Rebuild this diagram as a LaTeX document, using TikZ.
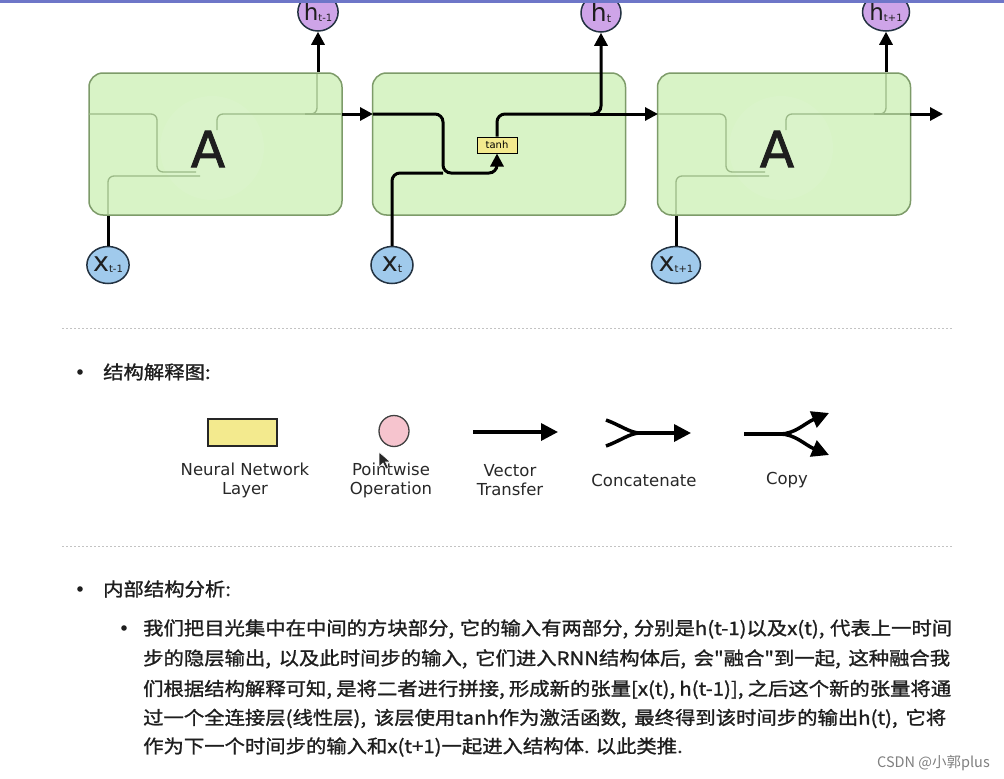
\documentclass[tikz,border=0pt]{standalone}
\usepackage{fontspec}
\usetikzlibrary{arrows.meta,shapes.geometric}
\newfontfamily\cjk[FakeStretch=1.1,FakeBold=1.2]{Noto Sans CJK SC}
\newfontfamily\cjkplain{Noto Sans CJK SC}
\newfontfamily\dejavu{DejaVu Sans}
\newfontfamily\dejavuA[FakeBold=1.8]{DejaVu Sans}
\definecolor{cellfill}{RGB}{216,243,198}
\definecolor{cellborder}{RGB}{125,155,105}
\definecolor{faintline}{RGB}{155,185,135}
\definecolor{xfill}{RGB}{160,202,236}
\definecolor{hfill}{RGB}{206,164,232}
\definecolor{circborder}{RGB}{35,50,65}
\definecolor{nnfill}{RGB}{243,234,142}
\definecolor{pwfill}{RGB}{246,196,206}
\definecolor{txt}{RGB}{30,30,30}
\definecolor{labtxt}{RGB}{40,40,40}
\definecolor{sepc}{RGB}{195,195,195}
\definecolor{topbar}{RGB}{110,118,200}
\begin{document}
\begin{tikzpicture}[x=1pt,y=-1pt,
  cell/.style={draw=cellborder, line width=1.5pt, fill=cellfill, rounded corners=14pt, minimum width=253pt, minimum height=142pt, inner sep=0pt},
  xcirc/.style={ellipse, draw=circborder, line width=1.5pt, fill=xfill, minimum width=42pt, minimum height=37pt, inner sep=0pt, text=txt},
  hcirc/.style={ellipse, draw=circborder, line width=1.5pt, fill=hfill, minimum width=40pt, minimum height=38pt, inner sep=0pt, text=txt},
  wire/.style={line width=3pt, black},
  arr/.style={wire, -{Triangle[length=13pt,width=13pt]}},
  legwire/.style={line width=3.5pt, black},
  legarr/.style={legwire, -{Triangle[length=17pt,width=17pt]}},
  faint/.style={line width=1.3pt, draw=faintline, rounded corners=6pt},
  tanhbox/.style={draw=black, line width=1pt, fill=nnfill, minimum width=40pt, minimum height=16pt, inner sep=0pt, font=\dejavu\fontsize{10}{10}\selectfont},
  lab/.style={align=center, text=labtxt, font=\dejavu\fontsize{16.5}{19}\selectfont},
  body/.style={anchor=base west, inner sep=0pt, text=txt, font=\cjk\fontsize{18.5}{20}\selectfont},
  bigA/.style={text=txt, font=\dejavuA\fontsize{50}{50}\selectfont},
  sepline/.style={draw=sepc, line width=1pt, dash pattern=on 2pt off 2pt}
]
\useasboundingbox (0,0) rectangle (1004,779);
\fill[white] (0,0) rectangle (1004,779);

% ---------- cells ----------
\node[cell] (A1) at (215.5,144) {};
\node[cell] (A2) at (499,144) {};
\node[cell] (A3) at (784,144) {};

% faint interior of side cells
\fill[white, opacity=0.07] (212,148) circle (52pt);
\fill[white, opacity=0.07] (781,148) circle (52pt);
\draw[faint] (89,114) -- (157,114) -- (157,172) -- (196,172);
\draw[faint] (108,215) -- (108,176) -- (200,176);
\draw[faint] (217,130) -- (217,114) -- (317,114) -- (317,74);
\draw[faint] (305,114) -- (342,114);
\draw[faint] (658,114) -- (726,114) -- (726,172) -- (765,172);
\draw[faint] (676,215) -- (676,176) -- (769,176);
\draw[faint] (786,130) -- (786,114) -- (886,114) -- (886,74);
\draw[faint] (874,114) -- (910,114);
\node[bigA] (LA1) at (208,149) {A};
\node[bigA] (LA3) at (777,149) {A};

% ---------- circles ----------
\node[hcirc] (h1) at (318,12) {\dejavu\fontsize{23}{23}\selectfont h\raisebox{-1pt}{\fontsize{10}{10}\selectfont t-1}};
\node[hcirc] (h2) at (601,13) {\dejavu\fontsize{25}{25}\selectfont h\raisebox{-1pt}{\fontsize{11}{11}\selectfont t}};
\node[hcirc] (h3) at (886,12) {\dejavu\fontsize{23}{23}\selectfont h\raisebox{-1pt}{\fontsize{10}{10}\selectfont t+1}};
\node[xcirc] (x1) at (108,265) {\dejavu\fontsize{27}{27}\selectfont x\raisebox{-1pt}{\fontsize{10}{10}\selectfont t-1}};
\node[xcirc] (x2) at (392,265) {\dejavu\fontsize{27}{27}\selectfont x\raisebox{-1pt}{\fontsize{11}{11}\selectfont t}};
\node[xcirc] (x3) at (676,265) {\dejavu\fontsize{27}{27}\selectfont x\raisebox{-1pt}{\fontsize{10}{10}\selectfont t+1}};

\node[tanhbox] (tanh) at (497,145) {tanh};

% ---------- named points ----------
\coordinate (o1) at (342,114);
\coordinate (i2) at (373,114);
\coordinate (o2) at (625,114);
\coordinate (i3) at (658,114);
\coordinate (o3) at (910,114);
\coordinate (e3) at (943,114);
\coordinate (b1) at (443,114);
\coordinate (b2) at (443,173);
\coordinate (b3) at (497,173);
\coordinate (b4) at (392,173);
\coordinate (b5) at (497,114);
\coordinate (b6) at (601,114);
\coordinate (b7) at (590,114);

% ---------- wires ----------
\draw[wire] (x1.north) -- (x1.north |- A1.south);
\draw[wire] (x3.north) -- (x3.north |- A3.south);
\draw[arr] (h1.south |- A1.north) -- (h1.south);
\draw[arr] (h3.south |- A3.north) -- (h3.south);
\draw[arr] (o1) -- (i2);
\draw[arr] (o2) -- (i3);
\draw[arr] (o3) -- (e3);
\draw[arr, rounded corners=8pt] (i2) -- (b1) -- (b2) -- (b3) -- (tanh.south);
\draw[wire, rounded corners=8pt] (x2.north) -- (b4) -- (b2);
\draw[arr, rounded corners=8pt] (tanh.north) -- (b5) -- (b6) -- (h2.south);
\draw[wire] (b7) -- (o2);

% top bar
\coordinate (tb1) at (0,1.5);
\coordinate (tb2) at (1004,1.5);
\draw[topbar, line width=3pt] (tb1) -- (tb2);

% ---------- separators ----------
\coordinate (s1a) at (62,328);
\coordinate (s1b) at (952,328);
\coordinate (s2a) at (62,546);
\coordinate (s2b) at (952,546);
\draw[sepline] (s1a) -- (s1b);
\draw[sepline] (s2a) -- (s2b);

% ---------- legend ----------
\fill[txt] (80,372) circle (2.8pt);
\node[body] (head1) at (103,379) {结构解释图:};

\node[draw=black!85, line width=1.5pt, fill=nnfill, minimum width=69pt, minimum height=27pt, inner sep=0pt] (nn) at (242.5,432.5) {};
\node[ellipse, draw=black!75, line width=1.3pt, fill=pwfill, minimum width=30pt, minimum height=31pt, inner sep=0pt] (pw) at (394,431) {};
\coordinate (vt1) at (473,432);
\coordinate (vt2) at (558,432);
\draw[legarr] (vt1) -- (vt2);
\coordinate (ca) at (606,420);
\coordinate (cb) at (606,446);
\coordinate (cm) at (640,433);
\coordinate (ce) at (691,433);
\draw[legwire] (ca) .. controls (620,425) and (630,433) .. (cm);
\draw[legwire] (cb) .. controls (620,441) and (630,433) .. (cm);
\draw[legarr] (cm) -- (ce);
\coordinate (co1) at (744,434);
\coordinate (co2) at (780,434);
\coordinate (co3) at (829,413);
\coordinate (co4) at (829,455);
\draw[legwire] (co1) -- (co2);
\draw[legarr] (co2) .. controls (795,434) and (805,423) .. (co3);
\draw[legarr] (co2) .. controls (795,434) and (805,445) .. (co4);

\node[lab] (l1) at (245,480.5) {Neural Network\\Layer};
\node[lab] (l2) at (391,480.5) {Pointwise\\Operation};
\node[lab] (l3) at (510,480.5) {Vector\\Transfer};
\node[lab] (l4) at (644,480) {Concatenate};
\node[lab] (l5) at (787,480) {Copy};

% mouse pointer
\filldraw[fill=black!85, draw=white, line width=0.6pt] (379,452) -- (379,467) -- (383,463) -- (386,469) -- (388.5,468) -- (385.5,462) -- (390.5,462) -- cycle;

% ---------- analysis text ----------
\fill[txt] (80,589) circle (2.8pt);
\node[body] (head2) at (103,596) {内部结构分析:};
\fill[txt] (124,628) circle (2.8pt);
\node[body] (t1) at (143,635) {\makebox[809pt][s]{我们把目光集中在中间的方块部分, 它的输入有两部分, 分别是h(t-1)以及x(t), 代表上一时间}};
\node[body] (t2) at (143,665) {\makebox[807pt][s]{步的隐层输出, 以及此时间步的输入, 它们进入RNN结构体后, 会"融合"到一起, 这种融合我}};
\node[body] (t3) at (143,695.5) {\makebox[808pt][s]{们根据结构解释可知, 是将二者进行拼接, 形成新的张量[x(t), h(t-1)], 之后这个新的张量将通}};
\node[body] (t4) at (143,724.5) {\makebox[803pt][s]{过一个全连接层(线性层), 该层使用tanh作为激活函数, 最终得到该时间步的输出h(t), 它将}};
\node[body] (t5) at (143,753) {作为下一个时间步的输入和x(t+1)一起进入结构体. 以此类推.};

\node[anchor=base east, inner sep=0pt, text=black!50, font=\cjkplain\fontsize{14.5}{14.5}\selectfont] (wm) at (990,767) {CSDN @小郭plus};
\end{tikzpicture}
\end{document}
